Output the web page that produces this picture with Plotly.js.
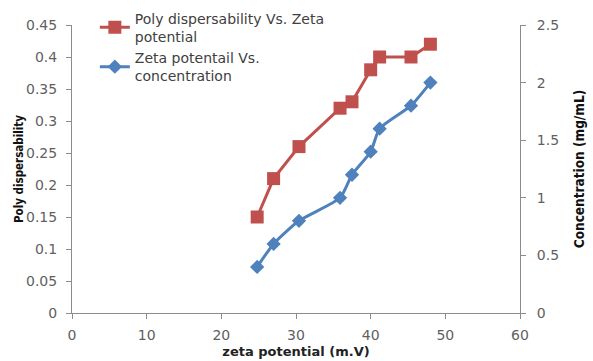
<!DOCTYPE html>
<html>
<head>
<meta charset="utf-8">
<script src="https://cdn.plot.ly/plotly-3.0.1.min.js"></script>
<style>
  html, body { margin: 0; padding: 0; background: #fff; }
  #chart { width: 593px; height: 361px; }
</style>
</head>
<body>
<div id="chart"></div>
<script>
// Zeta potential (mV) shared by both series
const zetaPotential = [24.8, 27.0, 30.4, 35.9, 37.5, 40.0, 41.2, 45.4, 48.0];
// Poly dispersability index at each zeta potential
const polyDispersability = [0.15, 0.21, 0.26, 0.32, 0.33, 0.38, 0.40, 0.40, 0.42];
// Concentration (mg/mL) at each zeta potential
const concentration = [0.4, 0.6, 0.8, 1.0, 1.2, 1.4, 1.6, 1.8, 2.0];

const seriesNames = [
  'Poly dispersability Vs. Zeta<br>potential',
  'Zeta potentail Vs.<br>concentration'
];

const xTicks = [0, 10, 20, 30, 40, 50, 60];
const leftTicks = [0, 0.05, 0.1, 0.15, 0.2, 0.25, 0.3, 0.35, 0.4, 0.45];
const leftTickText = ['0', '0.05', '0.1', '0.15', '0.2', '0.25', '0.3', '0.35', '0.4', '0.45'];
const rightTicks = [0, 0.5, 1, 1.5, 2, 2.5];
const rightTickText = ['0', '0.5', '1', '1.5', '2', '2.5'];

const tickFont = { family: 'DejaVu Sans, Verdana, sans-serif', size: 14, color: '#5f5f5f' };
const axisColor = '#8c8c8c';

const traces = [
  {
    x: zetaPotential,
    y: polyDispersability,
    name: seriesNames[0],
    type: 'scatter',
    mode: 'lines+markers',
    line: { color: '#C0504D', width: 3 },
    marker: { symbol: 'square', size: 13, color: '#C0504D' },
    yaxis: 'y'
  },
  {
    x: zetaPotential,
    y: concentration,
    name: seriesNames[1],
    type: 'scatter',
    mode: 'lines+markers',
    line: { color: '#4F81BD', width: 3, shape: 'spline', smoothing: 0.6 },
    marker: { symbol: 'diamond', size: 11, color: '#4F81BD' },
    yaxis: 'y2'
  }
];

const layout = {
  width: 593,
  height: 361,
  margin: { l: 72, r: 73, t: 25, b: 48, autoexpand: false },
  paper_bgcolor: '#ffffff',
  plot_bgcolor: '#ffffff',
  showlegend: true,
  legend: {
    x: 0.051, y: 1.078, xanchor: 'left', yanchor: 'top',
    bgcolor: 'rgba(0,0,0,0)',
    font: { family: 'DejaVu Sans, Verdana, sans-serif', size: 14, color: '#404040' },
    tracegroupgap: 0,
    itemwidth: 30
  },
  xaxis: {
    range: [0, 60],
    tickvals: xTicks,
    showgrid: false,
    zeroline: false,
    showline: true,
    linecolor: axisColor,
    linewidth: 1,
    ticks: 'outside',
    ticklen: 5,
    tickcolor: axisColor,
    tickfont: tickFont,
    ticklabelstandoff: 4,
    automargin: false,
    title: {
      text: '<b>zeta potential (m.V)</b>',
      font: { family: 'DejaVu Sans, Verdana, sans-serif', size: 13, color: '#222222' },
      standoff: 5
    }
  },
  yaxis: {
    range: [0, 0.45],
    tickvals: leftTicks,
    ticktext: leftTickText,
    showgrid: false,
    zeroline: false,
    showline: true,
    linecolor: axisColor,
    linewidth: 1,
    ticks: 'outside',
    ticklen: 5,
    tickcolor: axisColor,
    tickfont: tickFont,
    ticklabelstandoff: 6,
    automargin: false,
    title: {
      text: '<b>Poly dispersability</b>',
      font: { family: 'DejaVu Sans Condensed, sans-serif', size: 11.5, color: '#111111' },
      standoff: 0
    }
  },
  yaxis2: {
    overlaying: 'y',
    side: 'right',
    range: [0, 2.5],
    tickvals: rightTicks,
    ticktext: rightTickText,
    showgrid: false,
    zeroline: false,
    showline: true,
    linecolor: axisColor,
    linewidth: 1,
    ticks: 'outside',
    ticklen: 5,
    tickcolor: axisColor,
    tickfont: tickFont,
    ticklabelstandoff: 8,
    automargin: false,
    title: {
      text: '<b>Concentration (mg/mL)</b>',
      font: { family: 'DejaVu Sans Condensed, sans-serif', size: 13.5, color: '#111111' },
      standoff: 16
    }
  }
};

Plotly.newPlot('chart', traces, layout, { displayModeBar: false, staticPlot: true });
</script>
</body>
</html>
